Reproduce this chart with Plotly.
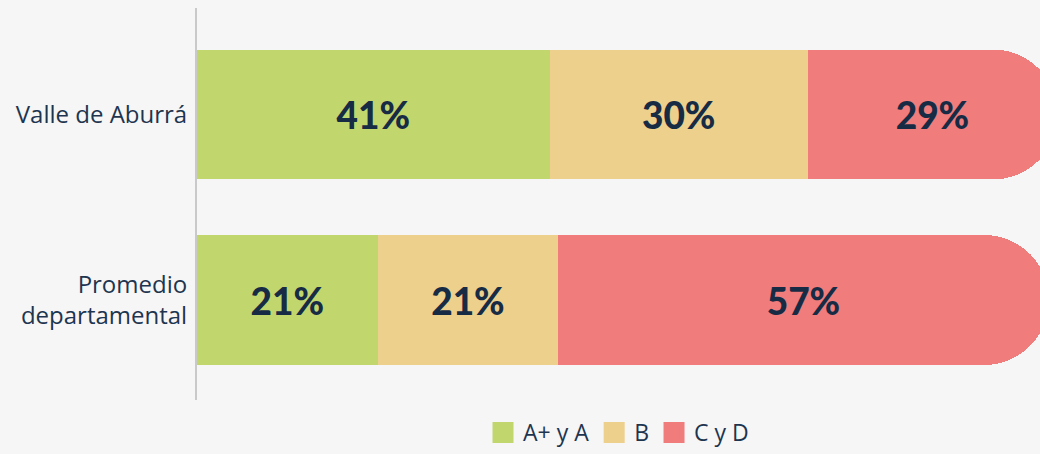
import plotly.graph_objects as go

categories = ["Valle de Aburrá", "Promedio<br>departamental"]
series_names = ["A+ y A", "B", "C y D"]
values_a = [41, 21]
values_b = [30, 21]
values_c = [29, 57]
colors = ["#c2d66e", "#edd08c", "#f07c7c"]

series_values = [values_a, values_b, values_c]

fig = go.Figure()
for name, vals, col in zip(series_names, series_values, colors):
    fig.add_trace(go.Bar(
        y=categories, x=vals, orientation="h", name=name,
        marker=dict(color=col, line=dict(width=0)),
        width=0.7,
        texttemplate="%{x}%", textposition="inside", insidetextanchor="middle",
        textfont=dict(family="Lato", size=37, color="#172b45", weight=900),
        cliponaxis=True, showlegend=False, hoverinfo="skip",
    ))
# legend entries
for name, col in zip(series_names, colors):
    fig.add_trace(go.Scatter(
        x=[None], y=[None], mode="markers", name=name,
        marker=dict(symbol="square", size=16, color=col, line=dict(color=col, width=5)),
        showlegend=True,
    ))

fig.update_layout(
    width=1040, height=454,
    barmode="stack",
    barcornerradius="50%",
    paper_bgcolor="#f6f6f6", plot_bgcolor="rgba(0,0,0,0)",
    margin=dict(l=197, r=0, t=8, b=54),
    xaxis=dict(range=[0, 98.0], visible=False, showgrid=False, zeroline=False),
    yaxis=dict(
        categoryorder="array", categoryarray=categories,
        range=[1.539, -0.574], showgrid=False, zeroline=False,
        showline=True, linecolor="#c9c9c9", linewidth=2,
        ticks="outside", ticklen=3, tickcolor="rgba(0,0,0,0)",
        tickfont=dict(family="Open Sans", size=24, color="#1e3550"),
    ),
    legend=dict(
        orientation="h", x=0.5, xanchor="center", y=-0.1378, yanchor="bottom",
        traceorder="normal", font=dict(family="Open Sans", size=23, color="#1e3550"),
        bgcolor="rgba(0,0,0,0)",
    ),
    showlegend=True,
)

fig.write_html(
    "out.html",
    config={"displayModeBar": False},
    post_script="document.body.style.margin='0px';document.body.style.background='#f6f6f6';document.body.style.overflow='hidden';",
)
